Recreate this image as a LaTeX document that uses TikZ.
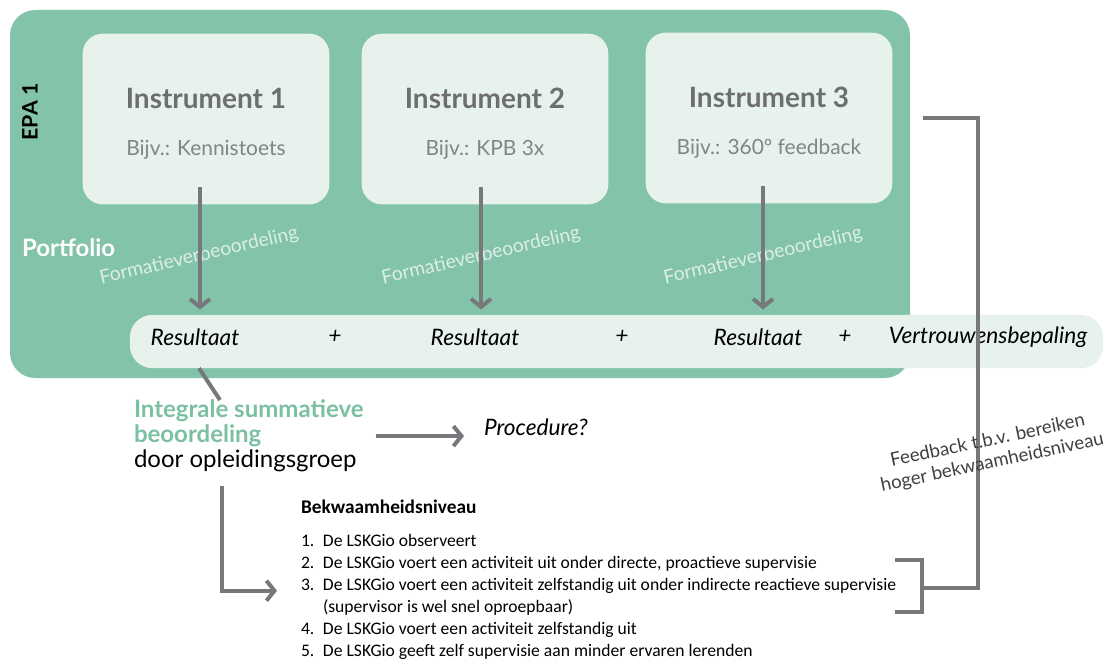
\documentclass[tikz,border=0pt]{standalone}
\usepackage{fontspec}
\setmainfont{Lato}
\newfontfamily\calibri{Carlito}
\usetikzlibrary{arrows.meta,positioning}
\definecolor{EPAgreen}{HTML}{82C3AA}
\definecolor{EPAlight}{HTML}{E6F2EB}
\definecolor{EPAgrey}{HTML}{77787B}
\definecolor{EPAtext}{HTML}{6D6E71}
\definecolor{EPAmint}{HTML}{7CC0A2}
\newcommand{\instr}[2]{{\fontsize{21}{24}\selectfont\bfseries\rule{0pt}{22pt}#1}\\[23pt]{\fontsize{15.7}{18}\selectfont\color{EPAtext!85} #2}}

\begin{document}
\begin{tikzpicture}[x=0.75pt, y=-0.75pt,
    every node/.style={inner sep=0pt, outer sep=0pt},
    instrument/.style={fill=EPAlight, rounded corners=15pt, minimum width=185pt, minimum height=128pt, align=center, text=EPAtext},
    pijl/.style={draw=EPAgrey, line width=3pt, -{Straight Barb[length=6pt, width=15pt]}},
    lijn/.style={draw=EPAgrey, line width=3pt},
    formatief/.style={text=white!72!EPAgreen, rotate=13, font=\fontsize{14.5}{17}\selectfont},
    res/.style={font=\fontsize{17}{20}\selectfont\itshape},
    item/.style={anchor=base west, font=\calibri\fontsize{13.2}{16.5}\selectfont}
  ]
  \useasboundingbox (0,0) rectangle (1107,660);
  \fill[white] (0,0) rectangle (1107,660);

  % EPA vlak
  \node[fill=EPAgreen, rounded corners=19pt, minimum width=675pt, minimum height=276pt] (epa) at (460,194) {};
  \node[rotate=90, font=\fontsize{16}{18}\selectfont\bfseries] (epanaam) at (30,112) {EPA 1};
  \node[anchor=west, text=white, font=\fontsize{18}{21}\selectfont\bfseries] (portfolio) at (22,248) {Portfolio};

  % instrumenten
  \node[instrument] (ins1) at (206,119) {\instr{Instrument 1}{Bijv.: Kennistoets}};
  \node[instrument] (ins2) at (485,119) {\instr{Instrument 2}{Bijv.: KPB 3x}};
  \node[instrument] (ins3) at (769,118) {\instr{Instrument 3}{Bijv.: 360º feedback}};

  % resultaten
  \node[fill=EPAlight, rounded corners=17pt, minimum width=730pt, minimum height=40pt] (band) at (616.5,341.5) {};
  \node[res] (res1) at (195,337) {Resultaat};
  \node[res] (plus1) at (335,337) {+};
  \node[res] (res2) at (475,337) {Resultaat};
  \node[res] (plus2) at (622,337) {+};
  \node[res] (res3) at (758,337) {Resultaat};
  \node[res] (plus3) at (845,337) {+};
  \node[res] (vertrouwen) at (988,337) {Vertrouwensbepaling};

  \node[formatief] (form1) at (199,256) {Formatieverbeoordeling};
  \node[formatief] (form2) at (481,256) {Formatieverbeoordeling};
  \node[formatief] (form3) at (763,256) {Formatieverbeoordeling};

  \draw[pijl] ([xshift=-4.5pt, yshift=13pt]ins1.south) -- ([xshift=-4.5pt, yshift=4pt]ins1.south |- band.north);
  \draw[pijl] ([xshift=-3pt, yshift=13pt]ins2.south) -- ([xshift=-3pt, yshift=4pt]ins2.south |- band.north);
  \draw[pijl] ([xshift=-4.5pt, yshift=13pt]ins3.south) -- ([xshift=-4.5pt, yshift=4pt]ins3.south |- band.north);

  % summatief
  \node[anchor=north west, align=left, font=\fontsize{18}{18.75}\selectfont] (isb) at (134,400)
    {{\color{EPAmint}\bfseries Integrale summatieve}\\{\color{EPAmint}\bfseries beoordeling}\\door opleidingsgroep};
  \node[res, anchor=west] (proc) at (484,427) {Procedure?};
  \draw[lijn] ([xshift=3pt]res1.south |- band.south) -- ([xshift=64.5pt]isb.north west);
  \draw[pijl] ([xshift=9pt]isb.east) -- ([xshift=-15pt]proc.west |- isb.east);

  % bekwaamheidsniveau
  \node[item, font=\calibri\fontsize{14.5}{16.5}\selectfont\bfseries] (bekw) at (301,513) {Bekwaamheidsniveau};
  \node[item] (lvl1) at (301,546) {\makebox[16.5pt][l]{1.}De LSKGio observeert};
  \node[item] (lvl2) at (301,568) {\makebox[16.5pt][l]{2.}De LSKGio voert een activiteit uit onder directe, proactieve supervisie};
  \node[item] (lvl3) at (301,590) {\makebox[16.5pt][l]{3.}De LSKGio voert een activiteit zelfstandig uit onder indirecte reactieve supervisie};
  \node[item] (lvl3b) at (323,612) {(supervisor is wel snel oproepbaar)};
  \node[item] (lvl4) at (301,634) {\makebox[16.5pt][l]{4.}De LSKGio voert een activiteit zelfstandig uit};
  \node[item] (lvl5) at (301,656) {\makebox[16.5pt][l]{5.}De LSKGio geeft zelf supervisie aan minder ervaren lerenden};
  \draw[pijl] ([xshift=66pt, yshift=-10pt]isb.south west) |- ([xshift=-18pt, yshift=-4pt]lvl3.west);

  % feedback
  \coordinate (haakboven) at (895,560);
  \coordinate (haakonder) at (895,612);
  \coordinate (haakmidden) at (922,588);
  \coordinate (fbtop) at (978,118);
  \coordinate (fbeind) at (923,118);
  \draw[lijn] (haakboven) -- ++(27,0) |- (haakonder);
  \draw[lijn] (haakmidden) -| (fbtop) -- (fbeind);
  \node[rotate=12, align=center, text=black!75, font=\fontsize{14}{16.5}\selectfont] (feedback) at (990,452)
    {Feedback t.b.v. bereiken\\hoger bekwaamheidsniveau};
\end{tikzpicture}
\end{document}
